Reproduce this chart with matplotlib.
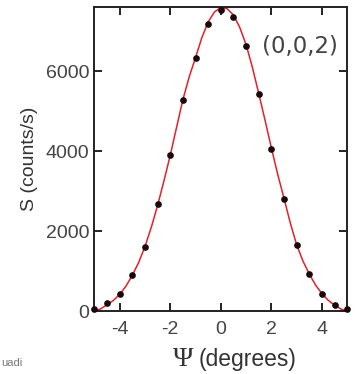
import matplotlib
matplotlib.use('Agg')
import matplotlib.pyplot as plt
import numpy as np

plt.rcParams['axes.unicode_minus'] = False

# measured intensity, (0,0,2) reflection
psi = [-5, -4.5, -4, -3.5, -3, -2.5, -2, -1.5, -1, -0.5, 0,
       0.5, 1, 1.5, 2, 2.5, 3, 3.5, 4, 4.5, 5]
counts = [50, 200, 430, 900, 1610, 2670, 3900, 5280, 6320, 7170, 7540,
          7360, 6630, 5430, 4060, 2800, 1650, 920, 440, 160, 50]

# fitted profile
fit_psi = [-5, -4.75, -4.5, -4.25, -4, -3.75, -3.5, -3.25, -3, -2.75, -2.5,
           -2.25, -2, -1.75, -1.5, -1.25, -1, -0.75, -0.5, -0.25, 0,
           0.25, 0.5, 0.75, 1, 1.25, 1.5, 1.75, 2, 2.25, 2.5,
           2.75, 3, 3.25, 3.5, 3.75, 4, 4.25, 4.5, 4.75, 5]
fit_counts = [0, 60, 160, 270, 420, 630, 900, 1220, 1620, 2100, 2650,
              3260, 3900, 4600, 5290, 5860, 6340, 6840, 7230, 7480, 7590,
              7560, 7400, 7090, 6660, 6090, 5440, 4770, 4080, 3420, 2820,
              2200, 1660, 1250, 930, 650, 440, 270, 150, 55, 0]

xticks = [-4, -2, 0, 2, 4]
yticks = [0, 2000, 4000, 6000]

fig = plt.figure(figsize=(3.55, 3.74), dpi=100)
ax = fig.add_axes([0.264, 0.168, 0.714, 0.813])

ax.plot(fit_psi, fit_counts, color='#e3202b', lw=1.1, zorder=2)
ax.plot(psi, counts, 'o', color='#1a0808', ms=3.8, zorder=3, clip_on=False)

ax.set_xlim(-5.03, 5.0)
ax.set_ylim(0, 7600)
ax.set_xticks(xticks)
ax.set_yticks(yticks)

for s in ax.spines.values():
    s.set_linewidth(1.4)
    s.set_color('#222222')
ax.tick_params(direction='in', length=6, width=1.4, color='#222222',
               top=True, right=True, labelsize=14, labelcolor='#444444',
               labelfontfamily='Liberation Sans')
ax.tick_params(axis='x', pad=7)
ax.tick_params(axis='y', pad=3)

ax.set_ylabel('S (counts/s)', fontsize=14, color='#333333',
              family='Liberation Sans', labelpad=6)

# x label: serif Psi followed by the unit
fig.text(193 / 355, 0.021, 'Ψ', ha='right', va='baseline',
         fontsize=20, color='#333333', family='Liberation Serif')
fig.text(199 / 355, 0.021, '(degrees)', ha='left', va='baseline',
         fontsize=16.5, color='#333333', family='Liberation Sans')

ax.text(0.963, 0.872, '(0,0,2)', transform=ax.transAxes, ha='right', va='center',
        fontsize=16.5, color='#444444', family='DejaVu Sans')

fig.text(0.003, 0.03, 'uadi', fontsize=8, color='#777777', ha='left', va='center',
         family='Liberation Sans')

fig.savefig('out.png', dpi=100)
